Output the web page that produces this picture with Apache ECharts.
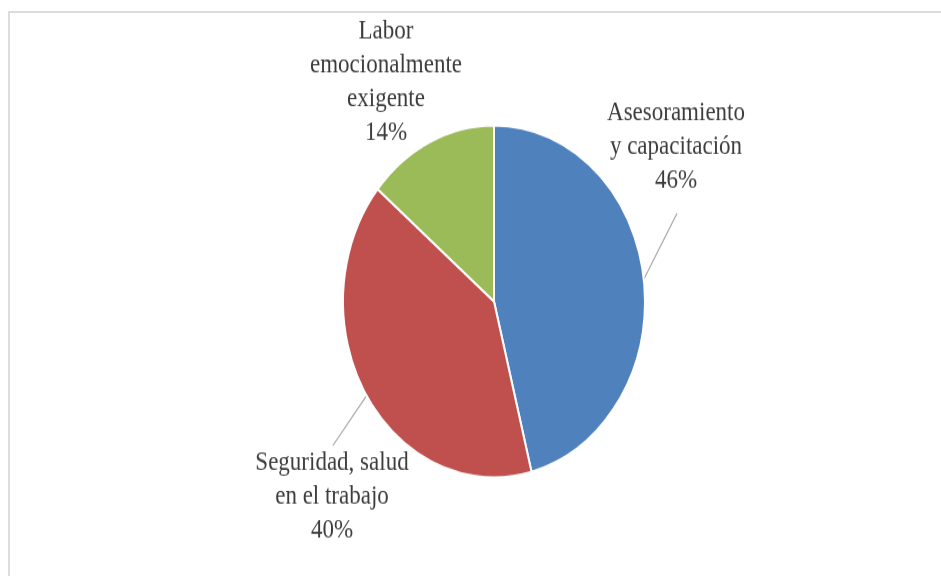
<!DOCTYPE html>
<html>
<head>
<meta charset="utf-8">
<script src="https://cdn.jsdelivr.net/npm/echarts@6/dist/echarts.min.js"></script>
<style>
  html, body { margin: 0; padding: 0; background: #fff; overflow: hidden; }
  #frame { position: absolute; left: 8px; top: 11px; width: 1000px; height: 1000px; border: 2px solid #dcdcdc; box-sizing: border-box; }
  #wrap { position: absolute; left: 0; top: 0; width: 941px; height: 576px; overflow: hidden; }
  #chart { position: absolute; left: 0; top: 0; width: 941px; height: 494px; transform: scaleY(1.166); transform-origin: 0 0; }
</style>
</head>
<body>
<div id="frame"></div>
<div id="wrap"><div id="chart"></div></div>
<script>
// Data
const categories = ['Asesoramiento\ny capacitación', 'Seguridad, salud\nen el trabajo', 'Labor\nemocionalmente\nexigente'];
const values = [46, 40, 14];
const colors = ['#4F81BD', '#C0504D', '#9BBB59'];

// label anchor placement (chart pixel space, before vertical stretch)
const labelPos = [
  { x: 676, y: 126, lineEnd: [677, 183] },
  { x: 332, y: 426, lineEnd: [333, 382] },
  { x: 386, y: 70, lineEnd: null }
];

const chart = echarts.init(document.getElementById('chart'), null, { renderer: 'canvas' });

const data = categories.map((name, i) => ({
  name: name,
  value: values[i],
  itemStyle: { color: colors[i] },
  labelLine: { show: labelPos[i].lineEnd !== null }
}));

chart.setOption({
  animation: false,
  series: [{
    type: 'pie',
    center: [494, 258.4],
    radius: [0, 151],
    startAngle: 90,
    clockwise: true,
    data: data,
    itemStyle: { borderColor: '#ffffff', borderWidth: 2 },
    label: {
      show: true,
      position: 'outside',
      formatter: p => p.name + '\n' + p.value + '%',
      fontFamily: '"Liberation Serif", "DejaVu Serif", serif',
      fontSize: 23,
      lineHeight: 29,
      color: '#3c3c3c',
      align: 'center'
    },
    labelLine: {
      show: true,
      lineStyle: { color: '#a6a6a6', width: 1.2 }
    },
    labelLayout: function (params) {
      const lp = labelPos[params.dataIndex];
      const out = { x: lp.x, y: lp.y, align: 'center', verticalAlign: 'middle' };
      if (lp.lineEnd && params.labelLinePoints) {
        out.labelLinePoints = [params.labelLinePoints[0], lp.lineEnd];
      }
      return out;
    }
  }]
});
</script>
</body>
</html>
